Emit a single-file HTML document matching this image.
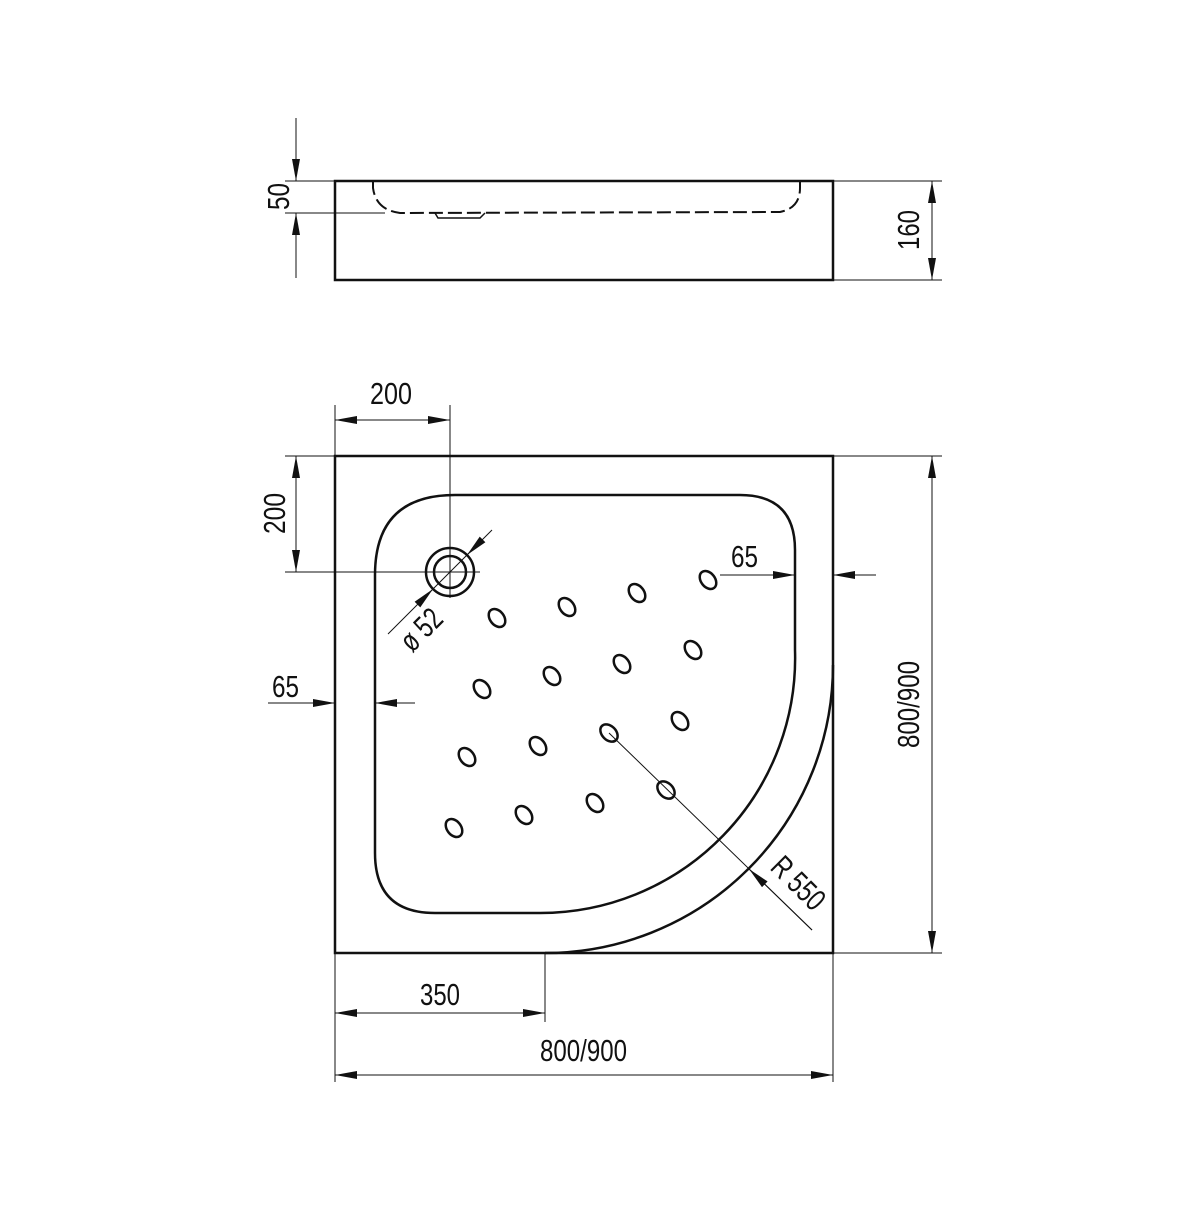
<!DOCTYPE html>
<html><head><style>
html,body{margin:0;padding:0;background:#fff}
svg text{font-family:"Liberation Sans Narrow","Liberation Sans",sans-serif;font-size:31px;fill:#111}
</style></head><body>
<svg width="1200" height="1200" viewBox="0 0 1200 1200" xmlns="http://www.w3.org/2000/svg">
<defs>
<marker id="a" viewBox="0 0 22 8" refX="22" refY="4" markerWidth="22" markerHeight="8" markerUnits="userSpaceOnUse" orient="auto"><path d="M0,0 L22,4 L0,8 Z" fill="#111"/></marker>
<marker id="b" viewBox="0 0 22 8" refX="0" refY="4" markerWidth="22" markerHeight="8" markerUnits="userSpaceOnUse" orient="auto"><path d="M22,0 L0,4 L22,8 Z" fill="#111"/></marker>
</defs>
<g stroke="#111" fill="none">
<rect x="335" y="181" width="498" height="99" stroke-width="2.5"/>
<path d="M373,181 L373,188 Q376,210 400,213 L780,212 Q800,208 800,188 L800,181" stroke-width="2" stroke-dasharray="14,5"/>
<path d="M435,213 L438,218 L480,218 L485,213" stroke-width="1.5"/>
<g stroke-width="1">
<line x1="285" y1="181" x2="335" y2="181"/>
<line x1="285" y1="213" x2="385" y2="213"/>
<line x1="296" y1="118" x2="296" y2="181" marker-end="url(#a)"/>
<line x1="296" y1="278" x2="296" y2="213" marker-end="url(#a)"/>
<line x1="833" y1="181" x2="942" y2="181"/>
<line x1="833" y1="280" x2="942" y2="280"/>
<line x1="932" y1="181" x2="932" y2="280" marker-start="url(#b)" marker-end="url(#a)"/>
</g>
<path d="M335,456 L833,456 L833,953 L335,953 Z" stroke-width="2.5"/>
<path d="M545,953 A288,288 0 0 0 833,665" stroke-width="2.5"/>
<path d="M455,495 L740,495 Q795,495 795,550 L795,650 A255,255 0 0 1 540,913 L435,913 Q375,913 375,853 L375,575 Q375,495 455,495 Z" stroke-width="2.5"/>
<circle cx="450" cy="572" r="24" stroke-width="2.5"/>
<circle cx="450" cy="572" r="16" stroke-width="2.5"/>
<g stroke-width="2.5">
<ellipse cx="497" cy="618" rx="7" ry="10" transform="rotate(-38 497 618)"/>
<ellipse cx="567" cy="607" rx="7" ry="10" transform="rotate(-38 567 607)"/>
<ellipse cx="637" cy="593" rx="7" ry="10" transform="rotate(-38 637 593)"/>
<ellipse cx="708" cy="580" rx="7" ry="10" transform="rotate(-38 708 580)"/>
<ellipse cx="482" cy="689" rx="7" ry="10" transform="rotate(-38 482 689)"/>
<ellipse cx="552" cy="676" rx="7" ry="10" transform="rotate(-38 552 676)"/>
<ellipse cx="622" cy="664" rx="7" ry="10" transform="rotate(-38 622 664)"/>
<ellipse cx="693" cy="650" rx="7" ry="10" transform="rotate(-38 693 650)"/>
<ellipse cx="467" cy="757" rx="7" ry="10" transform="rotate(-38 467 757)"/>
<ellipse cx="538" cy="746" rx="7" ry="10" transform="rotate(-38 538 746)"/>
<ellipse cx="609" cy="733" rx="7" ry="10" transform="rotate(-45 609 733)"/>
<ellipse cx="680" cy="721" rx="7" ry="10" transform="rotate(-38 680 721)"/>
<ellipse cx="454" cy="828" rx="7" ry="10" transform="rotate(-38 454 828)"/>
<ellipse cx="524" cy="815" rx="7" ry="10" transform="rotate(-38 524 815)"/>
<ellipse cx="595" cy="803" rx="7" ry="10" transform="rotate(-38 595 803)"/>
<ellipse cx="666" cy="790" rx="7" ry="10" transform="rotate(-45 666 790)"/>
</g>
<g stroke-width="1">
<line x1="335" y1="405" x2="335" y2="456"/>
<line x1="450" y1="405" x2="450" y2="598"/>
<line x1="335" y1="420" x2="450" y2="420" marker-start="url(#b)" marker-end="url(#a)"/>
<line x1="285" y1="456" x2="335" y2="456"/>
<line x1="285" y1="572" x2="480" y2="572"/>
<line x1="296" y1="456" x2="296" y2="572" marker-start="url(#b)" marker-end="url(#a)"/>
<line x1="720" y1="575" x2="795" y2="575" marker-end="url(#a)"/>
<line x1="876" y1="575" x2="833" y2="575" marker-end="url(#a)"/>
<line x1="268" y1="703" x2="335" y2="703" marker-end="url(#a)"/>
<line x1="415" y1="703" x2="375" y2="703" marker-end="url(#a)"/>
<line x1="388" y1="634" x2="433" y2="589" marker-end="url(#a)"/>
<line x1="492" y1="530" x2="467" y2="555" marker-end="url(#a)"/>
<line x1="433" y1="589" x2="467" y2="555"/>
<line x1="609" y1="733" x2="812" y2="930"/>
<line x1="812" y1="930" x2="749" y2="869" marker-end="url(#a)"/>
<line x1="833" y1="456" x2="942" y2="456"/>
<line x1="833" y1="953" x2="942" y2="953"/>
<line x1="932" y1="456" x2="932" y2="953" marker-start="url(#b)" marker-end="url(#a)"/>
<line x1="335" y1="953" x2="335" y2="1082"/>
<line x1="545" y1="953" x2="545" y2="1022"/>
<line x1="833" y1="953" x2="833" y2="1082"/>
<line x1="335" y1="1013" x2="545" y2="1013" marker-start="url(#b)" marker-end="url(#a)"/>
<line x1="335" y1="1075" x2="833" y2="1075" marker-start="url(#b)" marker-end="url(#a)"/>
</g>
</g>
<text x="265" y="197" transform="rotate(-90 278 197)" dy="11" textLength="27" lengthAdjust="spacingAndGlyphs">50</text>
<text x="888" y="230" transform="rotate(-90 908 230)" dy="11" textLength="40" lengthAdjust="spacingAndGlyphs">160</text>
<text x="370" y="404" textLength="42" lengthAdjust="spacingAndGlyphs">200</text>
<text x="254" y="514" transform="rotate(-90 274 514)" dy="11" textLength="41" lengthAdjust="spacingAndGlyphs">200</text>
<text x="731" y="567" textLength="27" lengthAdjust="spacingAndGlyphs">65</text>
<text x="272" y="697" textLength="27" lengthAdjust="spacingAndGlyphs">65</text>
<text x="865" y="705" transform="rotate(-90 908 705)" dy="11" textLength="87" lengthAdjust="spacingAndGlyphs">800/900</text>
<text x="398" y="630" transform="rotate(-45 420 630)" dy="11" textLength="46" lengthAdjust="spacingAndGlyphs">ø 52</text>
<text x="768" y="882" transform="rotate(45 798 882)" dy="11" textLength="62" lengthAdjust="spacingAndGlyphs">R 550</text>
<text x="420" y="1005" textLength="40" lengthAdjust="spacingAndGlyphs">350</text>
<text x="540" y="1061" textLength="87" lengthAdjust="spacingAndGlyphs">800/900</text>
</svg>
</body></html>
